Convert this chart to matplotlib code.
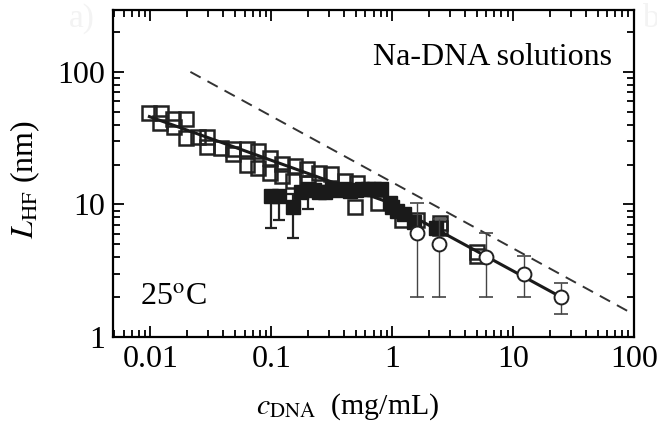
import numpy as np
import matplotlib.pyplot as plt

plt.rcParams['font.family'] = ['Liberation Serif', 'DejaVu Serif']
plt.rcParams['mathtext.fontset'] = 'stix'

# open squares
open_x = [0.0098, 0.0123, 0.0121, 0.0155, 0.0195, 0.0158, 0.0195, 0.0245, 0.0296, 0.0296,
          0.038, 0.0485, 0.0485, 0.063, 0.078, 0.063, 0.078, 0.098, 0.098, 0.123,
          0.123, 0.152, 0.158, 0.198, 0.2, 0.25, 0.31, 0.41, 0.51, 0.49,
          0.76, 1.2, 1.6, 2.5, 2.5, 5.0, 5.0]
open_y = [49, 49, 41.5, 44, 44, 38.6, 31.8, 32.4, 32.4, 27.3,
          26.8, 26.3, 24.2, 26.3, 25.3, 20, 19, 22.5, 17.4, 20.3,
          16.5, 15.1, 19.6, 18.6, 14.6, 17.4, 17.1, 15.1, 14.6, 9.6,
          10.3, 7.6, 7.6, 7.2, 6.6, 4.4, 4.1]

# filled squares
fill_x = [0.1, 0.115, 0.15, 0.175, 0.2, 0.225, 0.25, 0.28, 0.32, 0.36,
          0.4, 0.45, 0.5, 0.56, 0.63, 0.7, 0.8, 0.95, 1.0, 1.1, 1.25, 1.5, 2.3]
fill_y = [11.5, 11.5, 9.5, 12.5, 13, 12.8, 12.5, 12.5, 13, 12.8,
          13, 12.6, 12.8, 13, 13, 13, 13, 10.2, 9.5, 9.0, 8.5, 7.4, 6.7]
fill_err_x = [0.1, 0.115, 0.15, 0.2]
fill_err_y = [11.5, 11.5, 9.5, 13]
fill_err_lo = [6.6, 7.6, 5.6, 9.2]
fill_err_hi = [12.5, 12.5, 12.0, 14.0]

# open circles
circ_x = [1.6, 2.45, 6.0, 12.4, 25]
circ_y = [6.05, 5.0, 4.0, 3.0, 2.0]
circ_lo = [2.0, 2.0, 2.0, 2.0, 1.5]
circ_hi = [10.2, 7.8, 6.05, 4.06, 2.55]

# lines
fit_x = [0.0098, 0.85, 25]
fit_y = [46, 10.7, 2.0]
dash_x = [0.0214, 100]
dash_y = [100, 1.48]

fig = plt.figure(figsize=(6.57, 4.24), dpi=100)
ax = fig.add_axes([0.172, 0.205, 0.793, 0.771])
ax.set_xscale('log')
ax.set_yscale('log')

ax.plot(open_x, open_y, 's', ms=9.5, mfc='none', mec='#222222', mew=1.8, zorder=3)

e_lo = np.array(fill_err_y) - np.array(fill_err_lo)
e_hi = np.array(fill_err_hi) - np.array(fill_err_y)
ax.errorbar(fill_err_x, fill_err_y, yerr=[e_lo, e_hi], fmt='none', ecolor='#222222',
            elinewidth=1.6, capsize=4, capthick=1.6, zorder=3)
ax.plot(fill_x, fill_y, 's', ms=10.5, color='#1a1a1a', mec='#1a1a1a', zorder=4)

ax.plot(fit_x, fit_y, '-', color='#1a1a1a', lw=2.2, zorder=5)
ax.plot(dash_x, dash_y, '--', color='#333333', lw=1.4, dashes=(6, 4), zorder=2)

c_lo = np.array(circ_y) - np.array(circ_lo)
c_hi = np.array(circ_hi) - np.array(circ_y)
ax.errorbar(circ_x, circ_y, yerr=[c_lo, c_hi], fmt='none', ecolor='#444444',
            elinewidth=1.0, capsize=5, capthick=1.2, zorder=5)
ax.plot(circ_x, circ_y, 'o', ms=10, mfc='white', mec='#222222', mew=1.4, zorder=6)

ax.set_xlim(0.0049, 100)
ax.set_ylim(1, 292)
ax.set_xticks([0.01, 0.1, 1, 10, 100])
ax.set_xticklabels(['0.01', '0.1', '1', '10', '100'])
ax.set_yticks([1, 10, 100])
ax.set_yticklabels(['1', '10', '100'])

for s in ax.spines.values():
    s.set_linewidth(1.6)
ax.tick_params(which='both', direction='in', top=True, right=True, labelsize=23, width=1.3)
ax.tick_params(which='major', length=8, pad=6)
ax.tick_params(which='minor', length=5)

ax.set_xlabel(r'$c_{\mathrm{DNA}}$  (mg/mL)', fontsize=21.5, labelpad=12)
ax.xaxis.label.set_x(0.45)
ax.set_ylabel(r'$L_{\mathrm{HF}}$ (nm)', fontsize=23, labelpad=11)
ax.yaxis.label.set_y(0.483)

ax.text(0.958, 0.856, 'Na-DNA solutions', transform=ax.transAxes, ha='right', va='center', fontsize=23)
ax.text(0.052, 0.122, r'25$^{\mathrm{o}}$C', transform=ax.transAxes, ha='left', va='center', fontsize=23)

fig.text(0.105, 0.955, 'a)', color='#f3f3f3', fontsize=24, ha='left', va='center')
fig.text(0.978, 0.955, 'b', color='#f3f3f3', fontsize=24, ha='left', va='center')

fig.savefig('out.png', dpi=100)
